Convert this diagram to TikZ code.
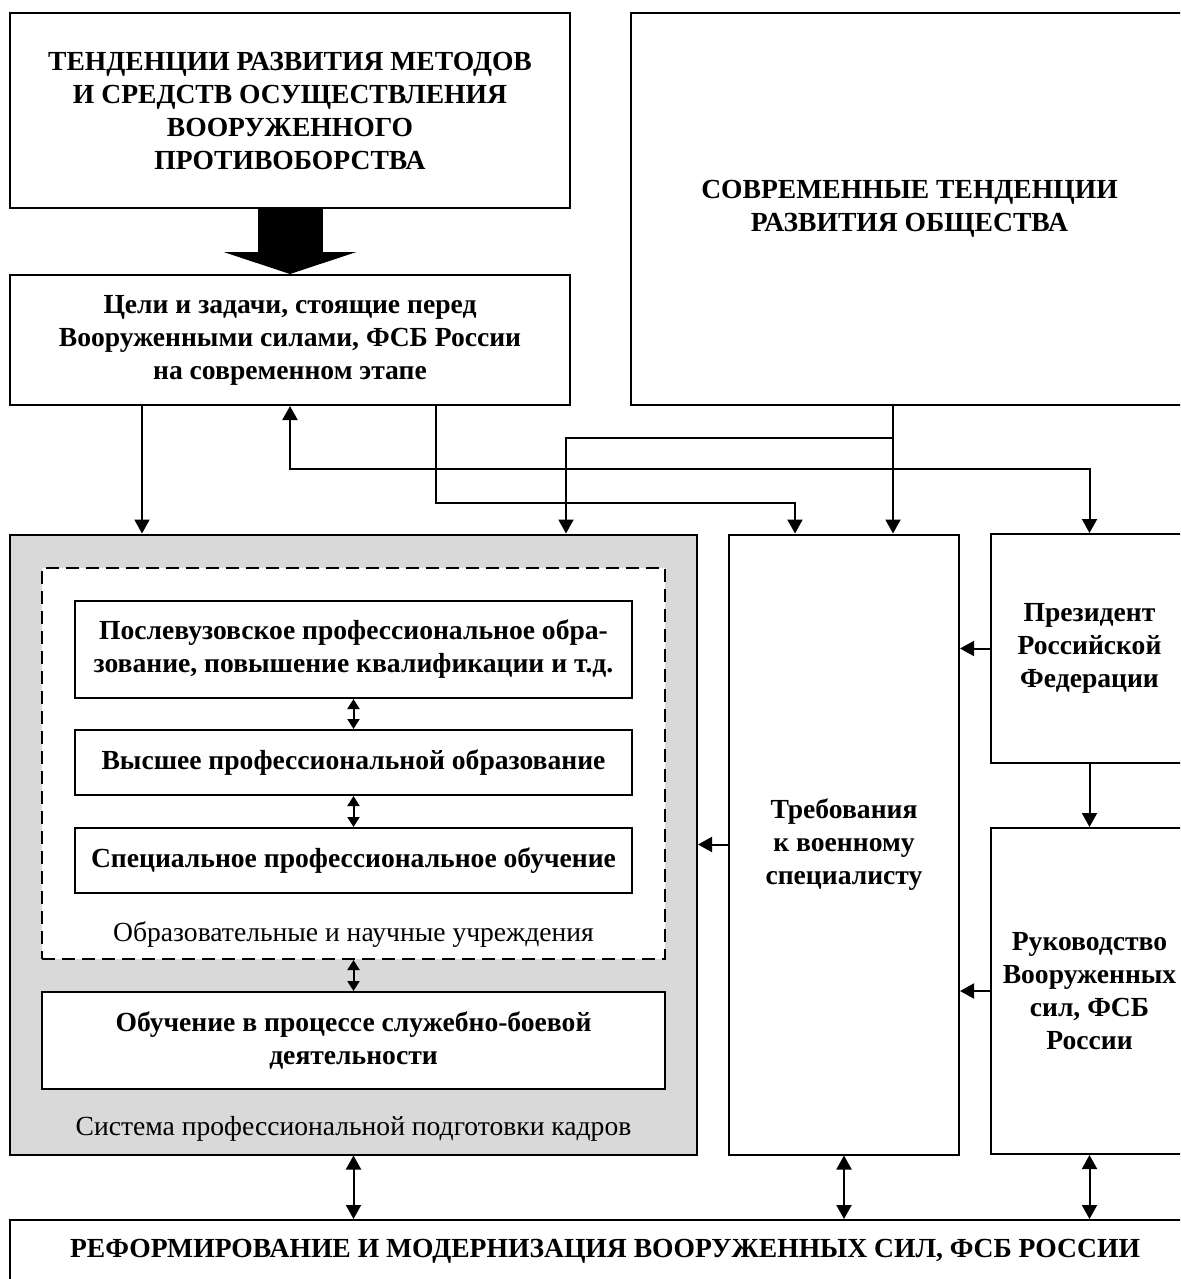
\documentclass[tikz,border=0pt]{standalone}
\usepackage{fontspec}
\setmainfont{Liberation Serif}
\usetikzlibrary{arrows.meta}

\begin{document}
\begin{tikzpicture}[x=0.5pt,y=-0.5pt,
    every node/.style={font=\fontsize{13.8}{16.5}\selectfont},
    blk/.style={draw, line width=1pt, fill=white, align=center, font=\fontsize{13.8}{16.5}\selectfont\bfseries},
    arr/.style={line width=1pt, -{Triangle[length=7pt,width=7.5pt]}},
    dbl/.style={line width=1pt, {Triangle[length=7pt,width=7.5pt]}-{Triangle[length=7pt,width=7.5pt]}},
    sdbl/.style={line width=1pt, {Triangle[length=5pt,width=6pt]}-{Triangle[length=5pt,width=6pt]}}]
    \clip (0,0) rectangle (1180,1279);
    % top row
    \node[blk, minimum width=280pt, minimum height=97.5pt] (trend) at (290,110.5) {ТЕНДЕНЦИИ РАЗВИТИЯ МЕТОДОВ\\И СРЕДСТВ ОСУЩЕСТВЛЕНИЯ\\ВООРУЖЕННОГО\\ПРОТИВОБОРСТВА};
    \node[blk, minimum width=280pt, minimum height=65pt] (goals) at (290,340) {Цели и задачи, стоящие перед\\Вооруженными силами, ФСБ России\\на современном этапе};
    \node[blk, minimum width=278.5pt, minimum height=196pt] (society) at (909.5,209) {СОВРЕМЕННЫЕ ТЕНДЕНЦИИ\\РАЗВИТИЯ ОБЩЕСТВА};
    % training system
    \node[blk, fill=black!15, minimum width=343.5pt, minimum height=310pt] (system) at (353.5,844.5) {};
    \node[blk, dashed, dash pattern=on 6.5pt off 3.5pt, minimum width=311.5pt, minimum height=195.5pt] (edu) at (353.5,763.5) {};
    \node[blk, minimum width=278.5pt, minimum height=48.5pt] (postgrad) at (353.5,649.5) {Послевузовское профессиональное обра-\\зование, повышение квалификации и т.д.};
    \node[blk, minimum width=278.5pt, minimum height=32.5pt] (higher) at (353.5,762.5) {Высшее профессиональной образование};
    \node[blk, minimum width=278.5pt, minimum height=32.5pt] (special) at (353.5,860.5) {Специальное профессиональное обучение};
    \node (edulbl) at (353.5,935) {Образовательные и научные учреждения};
    \node[blk, minimum width=311.5pt, minimum height=48.5pt] (service) at (353.5,1040.5) {Обучение в процессе служебно-боевой\\деятельности};
    \node (syslbl) at (353.5,1129) {Система профессиональной подготовки кадров};
    % right column
    \node[blk, minimum width=115pt, minimum height=310pt] (req) at (844,844.5) {Требования\\к военному\\специалисту};
    \node[blk, minimum width=98.5pt, minimum height=114.5pt] (pres) at (1089.5,648.5) {Президент\\Российской\\Федерации};
    \node[blk, inner xsep=2pt, minimum width=98.5pt, minimum height=163pt] (lead) at (1089.5,991) {Руководство\\Вооруженных\\сил, ФСБ\\России};
    \node[blk, minimum width=595pt, minimum height=31pt] (reform) at (605,1251) {РЕФОРМИРОВАНИЕ И МОДЕРНИЗАЦИЯ ВООРУЖЕННЫХ СИЛ, ФСБ РОССИИ};

    \coordinate (l1) at (142,0);
    \coordinate (bd) at (436,0);
    \coordinate (gs) at (566,0);
    \coordinate (tr) at (795,0);
    \coordinate (cd) at (893,0);
    \coordinate (h1) at (0,438);
    \coordinate (h2) at (0,469);
    \coordinate (h3) at (0,503);

    \draw[line width=32.5pt, -{Triangle[length=11pt,width=66.5pt,line width=0pt]}] (trend) -- (goals);
    \draw[arr] (goals.south -| l1) -- (system.north -| l1);
    \draw[dbl] (goals.south) -- (goals.south |- h2) -| (pres.north);
    \draw[arr] (society.south -| cd) -- (req.north -| cd);
    \draw[arr] (cd |- h1) -| (system.north -| gs);
    \draw[arr] (goals.south -| bd) -- (bd |- h3) -| (req.north -| tr);
    \draw[arr] (pres.west) -- (pres.west -| req.east);
    \draw[arr] (lead.west) -- (lead.west -| req.east);
    \draw[arr] (req.west) -- (req.west -| system.east);
    \draw[arr] (pres) -- (lead);
    \draw[sdbl] (postgrad) -- (higher);
    \draw[sdbl] (higher) -- (special);
    \draw[sdbl] (edu) -- (service);
    \draw[dbl] (system.south) -- (system.south |- reform.north);
    \draw[dbl] (req.south) -- (req.south |- reform.north);
    \draw[dbl] (lead.south) -- (lead.south |- reform.north);
\end{tikzpicture}
\end{document}
